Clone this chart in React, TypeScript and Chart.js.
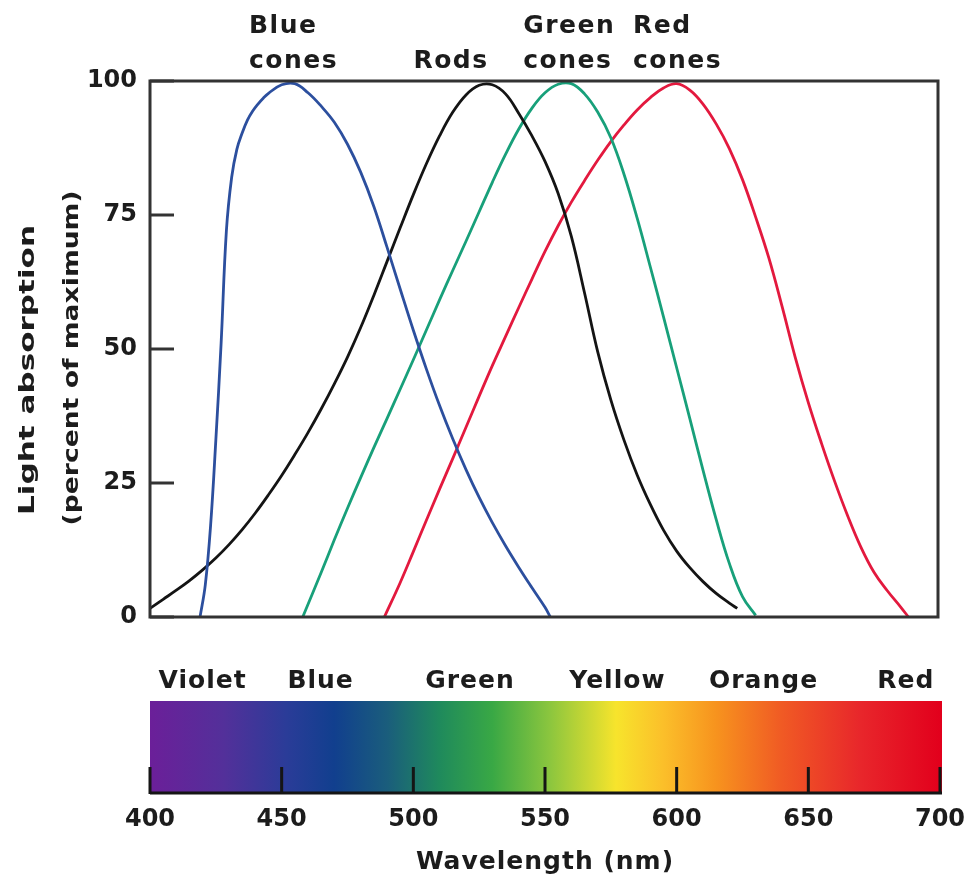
import React, { useEffect, useRef } from "react";
import { Chart, registerables } from "chart.js";

Chart.register(...registerables);

// ---- Data (wavelength in nm, absorption in % of maximum) ----
const blueWl = [419, 421, 423, 425, 427, 429, 431, 433, 435, 437, 439, 441, 443, 445, 450, 455, 460, 465, 470, 475, 480, 485, 490, 495, 500, 505, 510, 515, 520, 525, 530, 535, 540, 545, 550, 552];
const blueAbs = [0, 6, 17, 33, 51, 72, 82, 87.3, 90.3, 92.7, 94.4, 95.7, 96.8, 97.7, 99.3, 99.5, 97.8, 95.3, 92.3, 88.2, 83, 76.6, 69, 61.2, 53.5, 46.2, 39.4, 33.2, 27.5, 22.3, 17.6, 13.3, 9.3, 5.5, 1.8, 0];

const rodsWl = [400, 405, 410, 415, 420, 425, 430, 435, 440, 445, 450, 455, 460, 465, 470, 475, 480, 485, 490, 495, 500, 505, 510, 515, 520, 525, 530, 535, 540, 545, 550, 555, 560, 565, 570, 575, 580, 585, 590, 595, 600, 605, 610, 615, 620, 623];
const rodsAbs = [1.6, 3.3, 5, 6.8, 8.8, 11, 13.5, 16.3, 19.4, 22.8, 26.4, 30.3, 34.4, 38.8, 43.5, 48.5, 54, 60, 66.3, 72.6, 78.8, 84.6, 89.8, 94.2, 97.4, 99.2, 99.3, 97.6, 94, 89.8, 85, 79, 71, 60.5, 49.5, 40.5, 33, 26.5, 21, 16.2, 12.3, 9.2, 6.6, 4.4, 2.6, 1.6];

const greenWl = [458, 465, 470, 475, 480, 485, 490, 495, 500, 505, 510, 515, 520, 525, 530, 535, 540, 545, 550, 555, 560, 565, 570, 575, 580, 585, 590, 595, 600, 605, 610, 615, 620, 625, 630];
const greenAbs = [0, 8.3, 14.4, 20.3, 26, 31.6, 37, 42.5, 48, 53.6, 59.2, 64.7, 70.1, 75.6, 81.1, 86.3, 91, 94.9, 97.8, 99.4, 99.5, 97.6, 94.2, 89.4, 82.6, 74.4, 65.3, 56, 46.5, 37, 27.4, 18.2, 10, 3.8, 0.3];

const redWl = [489, 495, 500, 505, 510, 515, 520, 525, 530, 535, 540, 545, 550, 555, 560, 565, 570, 575, 580, 585, 590, 595, 600, 605, 610, 615, 620, 625, 630, 635, 640, 645, 650, 655, 660, 665, 670, 675, 680, 685, 688];
const redAbs = [0, 6.4, 12.2, 18.1, 23.9, 29.6, 35.4, 41.2, 46.9, 52.3, 57.7, 63, 68.2, 73, 77.4, 81.4, 85.2, 88.7, 91.8, 94.6, 96.9, 98.7, 99.5, 98.3, 95.7, 92, 87.4, 81.6, 74.6, 67, 58, 48.5, 40, 32.4, 25.3, 18.8, 13, 8.3, 4.9, 1.9, 0];

const seriesNames = ["Blue cones", "Rods", "Green cones", "Red cones"];

// axis ticks
const xMin = 400;
const xMax = 700;
const xStep = 50;
const yMin = 0;
const yMax = 100;
const yStep = 25;

// colour band names and the wavelength they are centred on
const bandNames = ["Violet", "Blue", "Green", "Yellow", "Orange", "Red"];
const bandCenters = [420, 464.8, 521.5, 577.5, 633, 687];

// curve labels above the plot (anchored at a wavelength)
const curveLabelLines = [["Blue", "cones"], ["Rods"], ["Green", "cones"], ["Red", "cones"]];
const curveLabelAnchors = [437.6, 514.3, 541.7, 583.4];
const curveLabelAlign: CanvasTextAlign[] = ["left", "center", "left", "left"];

// visible spectrum gradient
const spectrumStops = [400, 428, 452, 470, 490, 510, 530, 552, 577, 595, 615, 640, 670, 700];
const spectrumColors = [
  "#6b1f99", "#53309a", "#2a3c98", "#113f8e", "#1a5d7c", "#1f8a5c", "#39a845",
  "#8cc63e", "#f7e42c", "#fbbf2a", "#f7931e", "#f05a24", "#e8262b", "#e2001c",
];

const FONT = '"DejaVu Sans", "Liberation Sans", Arial, sans-serif';
const TEXT = "#1c1c1c";

const lineColors = ["#2c4f9e", "#141414", "#18a07a", "#e3193e"];

function pts(xs: number[], ys: number[]) {
  return xs.map((x, i) => ({ x, y: ys[i] }));
}

const decorPlugin = {
  id: "decor",
  afterDraw(chart: any) {
    const { ctx, chartArea: ca } = chart;
    const x = chart.scales.x;
    const y = chart.scales.y;
    ctx.save();

    // plot frame
    ctx.strokeStyle = "#333";
    ctx.lineWidth = 3;
    ctx.strokeRect(ca.left, ca.top, ca.right - 2 - ca.left, ca.bottom - ca.top);

    // inward y tick marks
    ctx.lineWidth = 3;
    y.ticks.forEach((t: any) => {
      const py = y.getPixelForValue(t.value);
      ctx.beginPath();
      ctx.moveTo(ca.left, py);
      ctx.lineTo(ca.left + 24, py);
      ctx.stroke();
    });

    // spectrum bar
    const barTop = 701;
    const barBottom = 794;
    const x0 = x.getPixelForValue(xMin);
    const x1 = x.getPixelForValue(xMax);
    const g = ctx.createLinearGradient(x0, 0, x1, 0);
    spectrumStops.forEach((w, i) => g.addColorStop((w - xMin) / (xMax - xMin), spectrumColors[i]));
    ctx.fillStyle = g;
    ctx.fillRect(x0, barTop, x1 - x0 + 2, barBottom - barTop);
    ctx.strokeStyle = "#151515";
    ctx.lineWidth = 3;
    ctx.beginPath();
    ctx.moveTo(x0, barBottom - 1);
    ctx.lineTo(x1 + 2, barBottom - 1);
    ctx.stroke();
    x.ticks.forEach((t: any) => {
      const px = x.getPixelForValue(t.value);
      ctx.beginPath();
      ctx.moveTo(px, barBottom - 27);
      ctx.lineTo(px, barBottom);
      ctx.stroke();
    });

    // band labels
    ctx.fillStyle = TEXT;
    ctx.font = `bold 25px ${FONT}`;
    (ctx as any).letterSpacing = "1px";
    ctx.textBaseline = "alphabetic";
    ctx.textAlign = "center";
    bandNames.forEach((n, i) => {
      ctx.fillText(n, x.getPixelForValue(bandCenters[i]), 688);
    });

    // x axis title
    ctx.fillText("Wavelength (nm)", (x0 + x1) / 2, 869);

    // curve labels
    (ctx as any).letterSpacing = "1.5px";
    curveLabelLines.forEach((lines, i) => {
      ctx.textAlign = curveLabelAlign[i];
      const px = x.getPixelForValue(curveLabelAnchors[i]);
      const baselines = lines.length === 2 ? [33, 68] : [68];
      lines.forEach((l, j) => ctx.fillText(l, px, baselines[j]));
    });

    // y axis title (two rotated lines)
    (ctx as any).letterSpacing = "0px";
    ctx.font = `bold 22px ${FONT}`;
    const drawV = (text: string, bx: number, cy: number, len: number) => {
      ctx.save();
      ctx.translate(bx, cy);
      ctx.rotate(-Math.PI / 2);
      const w = ctx.measureText(text).width;
      ctx.scale(len / w, 1);
      ctx.textAlign = "center";
      ctx.fillText(text, 0, 0);
      ctx.restore();
    };
    drawV("Light absorption", 34, 370, 290);
    drawV("(percent of maximum)", 78, 358, 335);

    ctx.restore();
  },
};

export default function App() {
  const ref = useRef<HTMLCanvasElement | null>(null);

  useEffect(() => {
    if (!ref.current) return;
    const all = [
      pts(blueWl, blueAbs),
      pts(rodsWl, rodsAbs),
      pts(greenWl, greenAbs),
      pts(redWl, redAbs),
    ];
    const tickFont = { family: FONT, size: 24, weight: "bold" as const };
    const chart = new Chart(ref.current, {
      type: "line",
      data: {
        datasets: all.map((d, i) => ({
          label: seriesNames[i],
          data: d,
          borderColor: lineColors[i],
          backgroundColor: lineColors[i],
          borderWidth: 2.8,
          pointRadius: 0,
          tension: 0.4,
          fill: false,
        })),
      },
      options: {
        responsive: false,
        animation: false,
        layout: { padding: { top: 81, right: 29, left: 0, bottom: 0 } },
        plugins: { legend: { display: false }, tooltip: { enabled: false }, title: { display: false } },
        scales: {
          x: {
            type: "linear",
            min: xMin,
            max: xMax,
            afterFit: (s: any) => {
              s.height = 268;
              s.paddingLeft = 0;
              s.paddingRight = 0;
            },
            grid: { display: false, drawTicks: false },
            border: { display: false },
            ticks: { stepSize: xStep, padding: 188, font: tickFont, color: TEXT, maxRotation: 0, autoSkip: false },
          },
          y: {
            type: "linear",
            min: yMin,
            max: yMax,
            afterFit: (s: any) => {
              s.width = 150;
              s.paddingTop = 0;
              s.paddingBottom = 0;
            },
            grid: { display: false, drawTicks: false },
            border: { display: false },
            ticks: { stepSize: yStep, padding: 13, font: tickFont, color: TEXT },
          },
        },
      },
      plugins: [decorPlugin],
    });
    return () => chart.destroy();
  }, []);

  return (
    <div style={{ position: "absolute", left: 0, top: 0, width: 969, height: 885, background: "#fff" }}>
      <canvas ref={ref} width={969} height={885} style={{ display: "block" }} />
    </div>
  );
}
